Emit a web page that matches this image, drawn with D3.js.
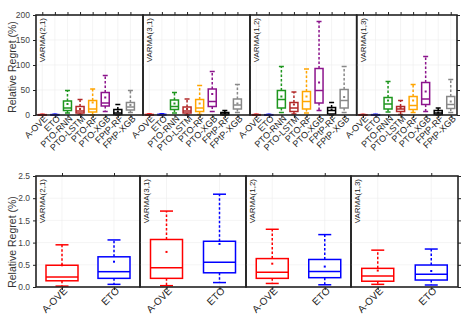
<!DOCTYPE html>
<html>
<head>
<meta charset="utf-8">
<script src="https://cdn.jsdelivr.net/npm/d3@7/dist/d3.min.js"></script>
<style>
    body { margin: 0; background: #fff; }
    svg { display: block; font-family: "Liberation Sans", Arial, sans-serif; }
    .grid line { stroke: #ececec; stroke-width: 0.6; }
    .frame { fill: none; stroke: #222; stroke-width: 1.6; }
    .tick line { stroke: #222; }
</style>
</head>
<body>
<div id="chart"></div>
<script>
// categories and colours
var topCats = ["A-OVE", "ETO", "PTO-RNN", "PTO-LSTM", "PTO-RF", "PTO-XGB", "FPtP-RF", "FPtP-XGB"];
var topColors = ["#ff0000", "#0000ff", "#1e961e", "#b22828", "#ffa500", "#8c148c", "#000000", "#888888"];
var bottomCats = ["A-OVE", "ETO"];
var bottomColors = ["#ff0000", "#0000ff"];
var panelNames = ["VARMA(2,1)", "VARMA(3,1)", "VARMA(1,2)", "VARMA(1,3)"];
var topTicks = [0, 50, 100, 150, 200];
var bottomTicks = [0, 0.5, 1.0, 1.5, 2.0, 2.5];

// [low whisker, q1, median, q3, high whisker, mean]
var top21 = [[0, 0.2, 0.4, 0.7, 1.2, 0.5], [0, 0.3, 0.5, 0.8, 1.4, 0.6], [4, 9, 14, 28, 49, 22], [1, 4, 8, 17, 31, 12],
    [0, 6, 12, 29, 52, 25], [7, 18, 24, 45, 79, 35], [0, 1, 4, 11, 21, 7], [5, 10, 16, 25, 49, 20]];
var top31 = [[0, 0.3, 0.6, 1, 1.8, 0.8], [0, 0.4, 0.7, 1.2, 2.2, 1], [4, 11, 17, 30, 45, 23], [0, 4, 8, 16, 32, 12],
    [1, 7, 14, 31, 59, 23], [7, 17, 27, 52, 87, 42], [0, 0.5, 2, 5, 9, 3], [5, 12, 20, 32, 61, 23]];
var top12 = [[0, 0.2, 0.4, 0.7, 1.3, 0.5], [0, 0.2, 0.4, 0.6, 1.2, 0.5], [5, 14, 31, 49, 97, 37], [2, 7, 14, 25, 46, 21],
    [4, 12, 27, 47, 92, 37], [9, 24, 49, 93, 187, 65], [0, 2, 9, 15, 25, 11], [5, 14, 29, 51, 97, 36]];
var top13 = [[0, 0.2, 0.4, 0.6, 1.1, 0.4], [0, 0.2, 0.4, 0.7, 1.2, 0.5], [6, 12, 22, 35, 67, 29], [1, 7, 12, 17, 29, 14],
    [5, 11, 19, 37, 61, 29], [7, 21, 32, 65, 117, 47], [0, 1, 4, 9, 14, 5], [5, 13, 21, 37, 71, 27]];

var bottom21 = [[0.02, 0.14, 0.225, 0.49, 0.95, 0.49], [0.06, 0.195, 0.345, 0.68, 1.06, 0.57]];
var bottom31 = [[0.03, 0.195, 0.435, 1.07, 1.71, 0.79], [0.1, 0.32, 0.555, 1.03, 2.09, 0.97]];
var bottom12 = [[0.08, 0.195, 0.33, 0.64, 1.3, 0.525], [0.05, 0.21, 0.35, 0.62, 1.18, 0.46]];
var bottom13 = [[0.06, 0.13, 0.25, 0.42, 0.83, 0.37], [0.045, 0.157, 0.285, 0.495, 0.855, 0.36]];

var svg = d3.select("#chart").append("svg")
    .attr("width", 467)
    .attr("height", 328);

function drawRow(opts) {
    var y = d3.scaleLinear().domain(opts.yDomain).range([opts.bottom, opts.top]);
    var g = svg.append("g");

    opts.panels.forEach(function (p, pi) {
        var x = d3.scaleLinear().domain(p.domain).range([p.x0, p.x1]);
        var pos = opts.cats.map(function (c, i) { return i + 1; });

        // grid
        var grid = g.append("g").attr("class", "grid");
        grid.selectAll(".gy").data(opts.yTicks.slice(1, -1)).enter().append("line")
            .attr("x1", p.x0).attr("x2", p.x1)
            .attr("y1", function (d) { return y(d); }).attr("y2", function (d) { return y(d); });
        grid.selectAll(".gx").data(pos).enter().append("line")
            .attr("x1", function (d) { return x(d); }).attr("x2", function (d) { return x(d); })
            .attr("y1", opts.top).attr("y2", opts.bottom);

        // axes: bottom with labels, top ticks only
        var xb = g.append("g")
            .attr("transform", "translate(0," + opts.bottom + ")")
            .call(d3.axisBottom(x).tickValues(pos).tickSize(3).tickSizeOuter(0)
                .tickFormat(function (d) { return opts.cats[d - 1]; }));
        xb.select(".domain").remove();
        xb.selectAll("text")
            .attr("font-size", opts.xFont)
            .attr("fill", "#222")
            .attr("text-anchor", "end")
            .attr("transform", function () { return "translate(" + opts.labDx + "," + opts.labDy + ") rotate(-45)"; })
            .attr("x", 0).attr("y", 0).attr("dy", "0.35em");

        var xt = g.append("g")
            .attr("transform", "translate(0," + opts.top + ")")
            .call(d3.axisTop(x).tickValues(pos).tickSize(3).tickSizeOuter(0).tickFormat(""));
        xt.select(".domain").remove();

        // boxes
        var stats = p.stats;
        var bw = opts.boxW, cw = opts.capW;
        stats.forEach(function (s, i) {
            var cx = x(i + 1);
            var col = opts.colors[i];
            var b = g.append("g").attr("stroke", col).attr("fill", "none").attr("stroke-width", 1.5);
            b.append("line").attr("x1", cx).attr("x2", cx).attr("y1", y(s[3])).attr("y2", y(s[4]))
                .attr("stroke-dasharray", "2.5,2");
            b.append("line").attr("x1", cx).attr("x2", cx).attr("y1", y(s[1])).attr("y2", y(s[0]))
                .attr("stroke-dasharray", "2.5,2");
            b.append("line").attr("x1", cx - cw / 2).attr("x2", cx + cw / 2).attr("y1", y(s[4])).attr("y2", y(s[4]));
            b.append("line").attr("x1", cx - cw / 2).attr("x2", cx + cw / 2).attr("y1", y(s[0])).attr("y2", y(s[0]));
            b.append("rect").attr("x", cx - bw / 2).attr("width", bw)
                .attr("y", y(s[3])).attr("height", Math.max(0.5, y(s[1]) - y(s[3])))
                .attr("fill", "#fff");
            b.append("line").attr("x1", cx - bw / 2).attr("x2", cx + bw / 2).attr("y1", y(s[2])).attr("y2", y(s[2]));
            b.append("rect").attr("x", cx - 1).attr("y", y(s[5]) - 1).attr("width", 2).attr("height", 2)
                .attr("fill", col).attr("stroke", "none");
        });

        // panel frame
        g.append("rect").attr("class", "frame")
            .attr("x", p.x0).attr("y", opts.top)
            .attr("width", p.x1 - p.x0).attr("height", opts.bottom - opts.top);

        // panel title
        g.append("text")
            .attr("transform", "translate(" + (p.x0 + 9) + "," + (opts.top + 3) + ") rotate(-90)")
            .attr("text-anchor", "end")
            .attr("font-size", 8)
            .attr("fill", "#222")
            .text(panelNames[pi]);

        if (pi === 0) {
            var yl = g.append("g")
                .attr("transform", "translate(" + p.x0 + ",0)")
                .call(d3.axisLeft(y).tickValues(opts.yTicks).tickSize(3).tickFormat(opts.yFormat));
            yl.select(".domain").remove();
            yl.selectAll("text").attr("font-size", 8.5).attr("fill", "#444");
        }
        if (pi === opts.panels.length - 1) {
            var yr = g.append("g")
                .attr("transform", "translate(" + p.x1 + ",0)")
                .call(d3.axisRight(y).tickValues(opts.yTicks).tickSize(3).tickFormat(""));
            yr.select(".domain").remove();
        }
    });

    svg.append("text")
        .attr("transform", "translate(" + opts.ylabX + "," + opts.ylabY + ") rotate(-90)")
        .attr("text-anchor", "middle")
        .attr("font-size", 10.5)
        .attr("fill", "#333")
        .text("Relative Regret (%)");
}

drawRow({
    cats: topCats, colors: topColors, yDomain: [0, 200], yTicks: topTicks, yFormat: d3.format("d"),
    top: 15, bottom: 115, boxW: 8, capW: 5, xFont: 9, labDx: 3, labDy: 2,
    ylabX: 16, ylabY: 67,
    panels: [
        { x0: 36, x1: 143, domain: [0.5, 9], stats: top21 },
        { x0: 143, x1: 250, domain: [0.5, 9], stats: top31 },
        { x0: 250, x1: 356.7, domain: [0.5, 9], stats: top12 },
        { x0: 356.7, x1: 457, domain: [0.5, 8.5], stats: top13 }
    ]
});

drawRow({
    cats: bottomCats, colors: bottomColors, yDomain: [0, 2.5], yTicks: bottomTicks, yFormat: d3.format(".1f"),
    top: 176, bottom: 287, boxW: 32, capW: 13, xFont: 10, labDx: 3, labDy: 2,
    ylabX: 16, ylabY: 242,
    panels: [
        { x0: 36, x1: 140, domain: [0.5, 2.5], stats: bottom21 },
        { x0: 140, x1: 246, domain: [0.5, 2.5], stats: bottom31 },
        { x0: 246, x1: 351, domain: [0.5, 2.5], stats: bottom12 },
        { x0: 351, x1: 458, domain: [0.5, 2.5], stats: bottom13 }
    ]
});
</script>
</body>
</html>
